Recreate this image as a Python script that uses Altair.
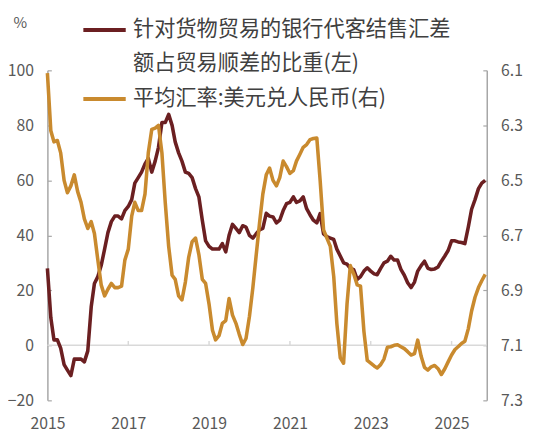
import altair as alt
import pandas as pd

# ---- data (monthly, Jan 2015 - Nov 2025) ----
months = pd.date_range("2015-01-01", periods=131, freq="MS")

share = [
    28, 10, 2, 2, -1, -7, -9, -11, -5, -5, -5, -6,
    -2, 14, 22.5, 25, 29, 35, 41, 45, 47, 47, 46, 49,
    50.5, 53, 59, 61, 63, 66, 68, 63, 67, 72, 81, 81,
    84, 80, 74, 70, 67, 63, 62.5, 61, 57, 54, 45.5, 38,
    36, 35, 35, 35, 37, 34, 40, 44, 42.5, 41, 43.5, 43,
    40, 39, 40.5, 42, 42.5, 48, 47, 46.7, 44.5, 45.5, 49, 51.5,
    52, 54, 52, 52.5, 54, 49.7, 47.5, 45.5, 44.5, 47.9, 40.5, 39.5,
    39, 38.5, 35, 32.5, 30, 29.5, 28, 27.5, 24, 25, 27, 28.2,
    27, 26, 25.7, 28, 30, 30.6, 32.4, 31, 31, 27.6, 25.5, 22.8,
    21, 23, 27, 29, 30.6, 28, 27.6, 27.8, 28.5, 30.6, 32.5, 34.5,
    38, 38, 37.6, 37.4, 37, 43, 49.5, 53, 57, 59, 60,
]

rate = [
    6.110, 6.320, 6.360, 6.355, 6.400, 6.500, 6.545, 6.520, 6.480, 6.540, 6.580, 6.640,
    6.675, 6.650, 6.693, 6.790, 6.880, 6.920, 6.896, 6.875, 6.890, 6.890, 6.885, 6.790,
    6.750, 6.630, 6.580, 6.610, 6.610, 6.550, 6.400, 6.315, 6.310, 6.300, 6.400, 6.580,
    6.740, 6.845, 6.860, 6.920, 6.935, 6.870, 6.780, 6.723, 6.710, 6.770, 6.860, 6.875,
    6.950, 7.045, 7.080, 7.065, 7.020, 7.010, 6.930, 6.990, 7.020, 7.060, 7.097, 7.075,
    6.995, 6.890, 6.776, 6.657, 6.550, 6.480, 6.455, 6.500, 6.520, 6.490, 6.430, 6.450,
    6.475, 6.465, 6.430, 6.405, 6.380, 6.370, 6.352, 6.348, 6.346, 6.500, 6.680, 6.710,
    6.740, 6.850, 7.020, 7.145, 7.165, 6.950, 6.810, 6.840, 6.880, 6.885, 7.050, 7.155,
    7.165, 7.175, 7.182, 7.170, 7.150, 7.107, 7.105, 7.100, 7.098, 7.105, 7.112, 7.123,
    7.135, 7.130, 7.081, 7.140, 7.180, 7.190, 7.178, 7.173, 7.185, 7.206, 7.185, 7.160,
    7.135, 7.115, 7.105, 7.093, 7.085, 7.040, 6.975, 6.925, 6.890, 6.865, 6.842,
]

tick_years = [2017, 2019, 2021, 2023, 2025]
left_ticks = [-20, 0, 20, 40, 60, 80, 100]
right_ticks = [6.1, 6.3, 6.5, 6.7, 6.9, 7.1, 7.3]

# legend text: first series name wraps over two rows
L1 = "针对货物贸易的银行代客结售汇差"
L1b = "额占贸易顺差的比重(左)"
L2 = "平均汇率:美元兑人民币(右)"
RED = "#6B1F21"
ORANGE = "#C98A2E"
GRAY = "#595959"
FONT = "Noto Sans CJK SC"

red_df = pd.DataFrame({"date": months, "share": share, "series": L1})
orange_df = pd.DataFrame({"date": months, "rate": rate, "series": L2})
ticks_df = pd.DataFrame({"date": pd.to_datetime([f"{y}-01-01" for y in tick_years])})

xscale = alt.Scale(domain=[alt.DateTime(year=2015, month=1, date=1),
                           alt.DateTime(year=2025, month=11, date=15)])
xaxis = alt.Axis(format="%Y", values=[alt.DateTime(year=y, month=1, date=1) for y in [2015] + tick_years],
                 domain=False, ticks=False, grid=False, labelFontSize=16, labelColor=GRAY,
                 labelFont=FONT, labelPadding=16, title=None, labelFlush=False)

lscale = alt.Scale(domain=[-20, 100], nice=False, zero=False)
laxis = alt.Axis(values=left_ticks, orient="left", domainColor="#A6A6A6", domainWidth=1.5,
                 ticks=False, grid=True, gridDash=[4, 2000], gridColor="#A6A6A6",
                 gridWidth=1.2, labelFontSize=16, labelColor=GRAY, labelFont=FONT,
                 labelPadding=14, title="%", titleAngle=0, titleX=-28, titleY=-48,
                 titleFontSize=15, titleFontWeight="normal", titleColor=GRAY,
                 titleFont=FONT, titleAlign="center", titleBaseline="middle")

color_scale = alt.Scale(domain=[L1, L1b, L2], range=[RED, "rgba(0,0,0,0)", ORANGE])
legend = alt.Legend(
    title=None, orient="none", legendX=34, legendY=-65, symbolType="stroke",
    symbolStrokeWidth=4, symbolSize=1850, labelFontSize=21.5, labelFont=FONT,
    labelColor="#404040", labelBaseline="middle",
    labelLimit=400, rowPadding=-4, padding=0, labelOffset=5,
)

zero_rule = alt.Chart(pd.DataFrame({"v": [0]})).mark_rule(color="#D9D9D9", strokeWidth=1.5).encode(
    y=alt.Y("v:Q", scale=lscale, axis=laxis)
)
year_ticks = alt.Chart(ticks_df).mark_rule(color="#D9D9D9", strokeWidth=1.5).encode(
    x=alt.X("date:T", scale=xscale, axis=xaxis),
    y=alt.datum(0, scale=lscale, axis=laxis),
    y2=alt.datum(1.6),
)
red_line = alt.Chart(red_df).mark_line(strokeWidth=3.6, strokeJoin="round").encode(
    x=alt.X("date:T", scale=xscale, axis=xaxis),
    y=alt.Y("share:Q", scale=lscale, axis=laxis),
    color=alt.Color("series:N", scale=color_scale, legend=legend),
)
left = alt.layer(zero_rule, year_ticks, red_line)

orange_line = alt.Chart(orange_df).mark_line(strokeWidth=3.6, strokeJoin="round").encode(
    x=alt.X("date:T", scale=xscale, axis=xaxis),
    y=alt.Y("rate:Q", scale=alt.Scale(domain=[6.1, 7.3], reverse=True, nice=False, zero=False),
            axis=alt.Axis(values=right_ticks, orient="right", format=".1f", domainColor="#A6A6A6",
                          domainWidth=1.5, ticks=False, grid=True, gridDash=[4, 2000],
                          gridColor="#A6A6A6", gridWidth=1.2, labelFontSize=16, labelColor=GRAY,
                          labelFont=FONT, labelPadding=14, title=None)),
    color=alt.Color("series:N", scale=color_scale, legend=legend),
)

chart = alt.layer(left, orange_line).resolve_scale(y="independent").properties(
    width=446, height=335,
    autosize=alt.AutoSizeParams(type="none"),
    padding={"left": 40, "top": 60, "right": 51, "bottom": 40},
).configure_view(stroke=None)

chart.save("out.html", embed_options={"renderer": "svg", "actions": False})
